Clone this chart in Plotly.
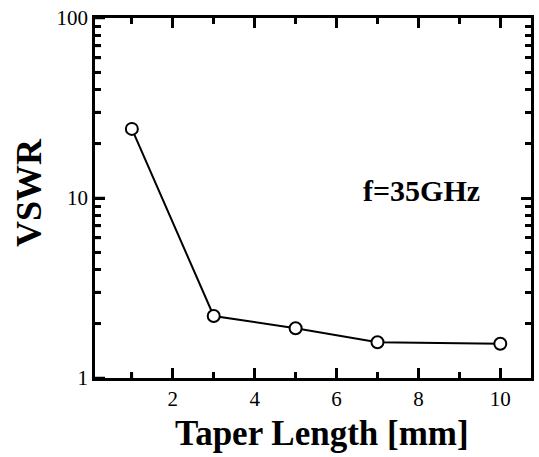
import plotly.graph_objects as go

taper_length = [1, 3, 5, 7, 10]
vswr = [24.2, 2.21, 1.89, 1.58, 1.55]

x_major = [2, 4, 6, 8, 10]
x_minor = [1, 3, 5, 7, 9]
y_major = [1, 10, 100]
y_major_labels = ["1", "10", "100"]
y_minor = [2, 3, 4, 5, 6, 7, 8, 9, 20, 30, 40, 50, 60, 70, 80, 90]

X_RANGE = [0.1, 10.75]
Y_RANGE = [0, 2]

FONT = "Liberation Serif, Times New Roman, serif"

PLOT_W = 539 - 95 - 8
PLOT_H = 457 - 18 - 79

fig = go.Figure()
fig.add_trace(go.Scatter(
    x=taper_length, y=vswr, mode="lines+markers",
    line=dict(color="black", width=2),
    marker=dict(symbol="circle", size=12, color="white",
                line=dict(color="black", width=2)),
    showlegend=False,
))

axis_common = dict(
    showline=True, linecolor="black", linewidth=2.5, mirror="ticks",
    ticks="inside", tickcolor="black", tickwidth=2.5, ticklen=10,
    showgrid=False, zeroline=False, automargin=False,
    tickfont=dict(family=FONT, size=21, color="black"),
)
x_minor_spec = dict(tickmode="array", tickvals=x_minor, ticks="inside", ticklen=6,
                    tickwidth=2.5, tickcolor="black", showgrid=False)
y_minor_spec = dict(tickmode="array", tickvals=y_minor, ticks="inside", ticklen=6,
                    tickwidth=2.5, tickcolor="black", showgrid=False)

fig.update_layout(
    xaxis=dict(range=X_RANGE, tickmode="array", tickvals=x_major,
               ticktext=[str(v) for v in x_major], minor=x_minor_spec,
               **axis_common),
    yaxis=dict(type="log", range=Y_RANGE, tickmode="array", tickvals=y_major,
               ticktext=y_major_labels, minor=y_minor_spec, **axis_common),
)

# inside tick marks along the bottom and left edges, placed via the axes' scales
tick_line = dict(color="black", width=2.5)
for v, length in [(v, 10) for v in x_major] + [(v, 6) for v in x_minor]:
    fig.add_shape(type="line", xref="x", x0=v, x1=v,
                  yref="paper", y0=0, y1=length / PLOT_H,
                  line=tick_line, layer="above")
for v, length in [(v, 10) for v in y_major] + [(v, 6) for v in y_minor]:
    fig.add_shape(type="line", yref="y", y0=v, y1=v,
                  xref="paper", x0=0, x1=length / PLOT_W,
                  line=tick_line, layer="above")

fig.add_annotation(text="<b>f=35GHz</b>", x=(421 - 95) / PLOT_W, y=(378 - 191) / PLOT_H,
                   xref="paper", yref="paper", showarrow=False,
                   xanchor="center", yanchor="middle",
                   font=dict(family=FONT, size=30, color="black"))
fig.add_annotation(text="<b>Taper Length [mm]</b>", x=(322 - 95) / PLOT_W,
                   y=-(434 - 378) / PLOT_H, xref="paper", yref="paper",
                   showarrow=False, xanchor="center", yanchor="middle",
                   font=dict(family=FONT, size=35, color="black"))
fig.add_annotation(text="<b>VSWR</b>", x=-(95 - 29) / PLOT_W, y=(378 - 193) / PLOT_H,
                   xref="paper", yref="paper", showarrow=False, textangle=-90,
                   xanchor="center", yanchor="middle",
                   font=dict(family=FONT, size=36, color="black"))

fig.update_layout(
    width=539, height=457,
    margin=dict(l=95, r=8, t=18, b=79, autoexpand=False),
    paper_bgcolor="white", plot_bgcolor="white",
)

fig.write_html(
    "out.html",
    config={"displayModeBar": False},
    post_script="document.body.style.margin='0';document.body.style.overflow='hidden';",
)
